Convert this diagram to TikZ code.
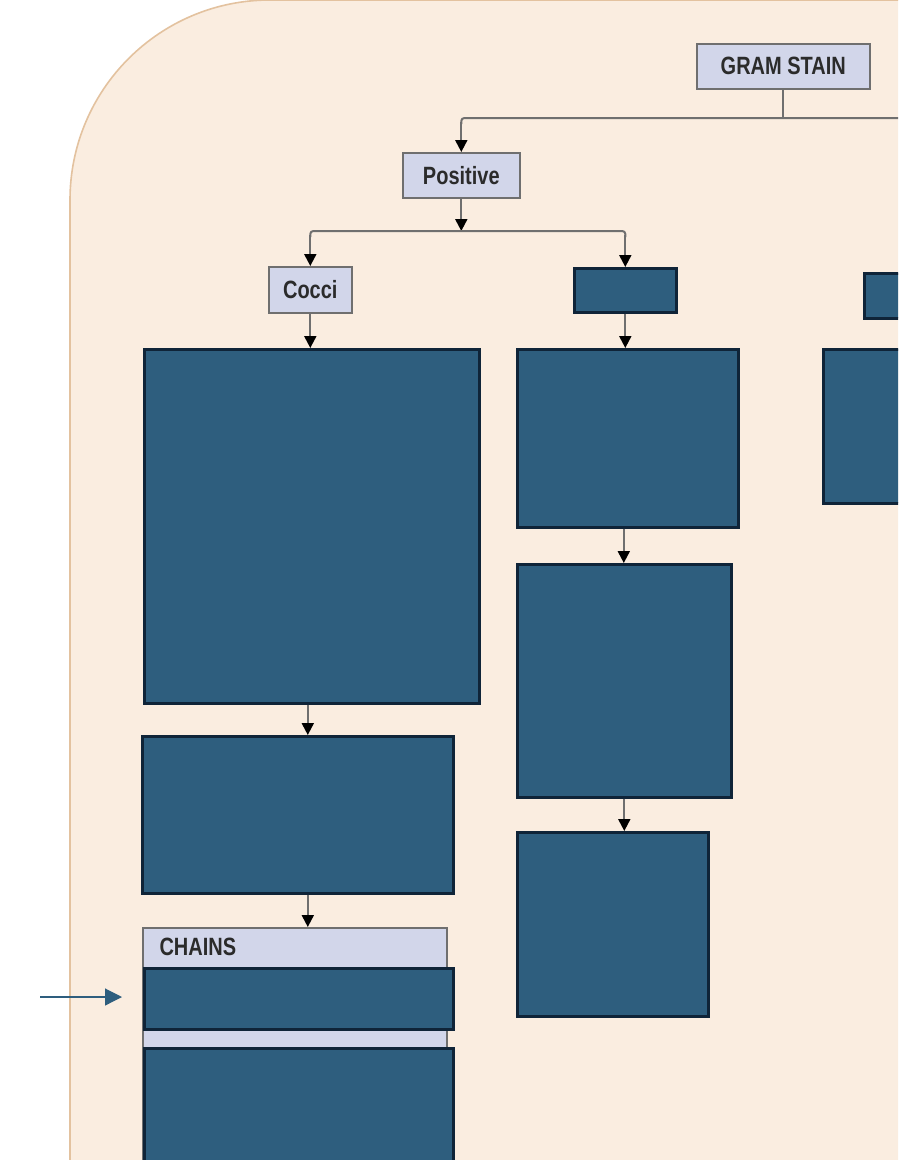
\documentclass[tikz,border=0pt]{standalone}
\usepackage{xcolor}
\usepackage{fontspec}
\setmainfont[FakeStretch=0.8]{Liberation Sans}
\usepackage{tikz}
\usetikzlibrary{calc, positioning, arrows.meta}
\definecolor{paperbg}{HTML}{FAEDE0}
\definecolor{paperedge}{HTML}{E3C29F}
\definecolor{lavbox}{HTML}{D2D6EA}
\definecolor{greyedge}{HTML}{6F6F6F}
\definecolor{tealbox}{HTML}{2E5E7E}
\definecolor{navyedge}{HTML}{0F2438}
\definecolor{inkgrey}{HTML}{2B2B2B}

\begin{document}
\begin{tikzpicture}[x=1pt, y=-1pt,
	labelbox/.style={draw=greyedge, fill=lavbox, line width=1.6pt, anchor=north west, inner sep=0pt, text=inkgrey, font=\fontsize{25}{28}\selectfont\bfseries},
	hiddenbox/.style={draw=navyedge, fill=tealbox, line width=2.6pt, anchor=north west, inner sep=0pt},
	flow/.style={draw=greyedge, line width=2pt, -{Triangle[length=12pt, width=12pt, color=black]}},
	bus/.style={draw=greyedge, line width=2pt, rounded corners=3pt}]
						\useasboundingbox (0,0) rectangle (898,1160);
						\clip (0,0) rectangle (898,1160);
						% page background
						\draw[fill=paperbg, draw=paperedge, line width=1.6pt, rounded corners=200pt] (70,0) rectangle (1100,1400);
						
						% top levels
						\node[labelbox, minimum width=173, minimum height=45] (gram) at (696,43) {GRAM STAIN};
						\node[labelbox, minimum width=117, minimum height=45] (pos) at (402,152) {Positive};
						\coordinate (offright) at (898,118);
						\draw[bus] (gram.south) -- (gram.south |- offright);
						\draw[bus] (offright) -- (pos.north |- offright) -- ++(0,6);
						\draw[flow] ($(pos.north |- offright)+(0,4)$) -- (pos.north);
						
						\node[labelbox, minimum width=83, minimum height=46] (cocci) at (268,266) {Cocci};
						\node[hiddenbox, minimum width=102, minimum height=44] (midtop) at (573,267) {};
						\node[hiddenbox, minimum width=60, minimum height=45] (righttop) at (863,272) {};
						\coordinate (split) at (0,231);
						\draw[flow] (pos.south) -- (pos.south |- split);
						\draw[bus] ($(cocci.north |- split)+(0,6)$) -- (cocci.north |- split) -- (midtop.north |- split) -- ++(0,6);
						\draw[flow] ($(cocci.north |- split)+(0,4)$) -- (cocci.north);
						\draw[flow] ($(midtop.north |- split)+(0,4)$) -- (midtop.north);
						
						% left column
						\node[hiddenbox, minimum width=335, minimum height=354] (cocbig) at (143,348) {};
						\node[hiddenbox, minimum width=311, minimum height=157] (cocmid) at (141,735) {};
						\node[labelbox, minimum width=304, minimum height=300] (chains) at (142,927) {};
						\node[anchor=west, text=inkgrey, font=\fontsize{25}{28}\selectfont\bfseries] (chainstxt) at (156,947) {CHAINS};
						\node[hiddenbox, minimum width=309, minimum height=61] (chainone) at (143,967) {};
						\node[hiddenbox, minimum width=309, minimum height=200] (chaintwo) at (143,1047) {};
						\draw[flow] (cocci.south) -- (cocci.south |- cocbig.north);
						\draw[flow] ($(cocbig.south)+(-4,0)$) -- ($(cocbig.south |- cocmid.north)+(-4,0)$);
						\draw[flow] ($(cocmid.south)+(10,0)$) -- ($(cocmid.south |- chains.north)+(10,0)$);
						
						% middle column
						\node[hiddenbox, minimum width=221, minimum height=178] (midone) at (516,348) {};
						\node[hiddenbox, minimum width=214, minimum height=233] (midtwo) at (516,563) {};
						\node[hiddenbox, minimum width=191, minimum height=184] (midthree) at (516,831) {};
						\draw[flow] (midtop.south) -- (midtop.south |- midone.north);
						\draw[flow] ($(midone.south)+(-4,0)$) -- ($(midone.south |- midtwo.north)+(-4,0)$);
						\draw[flow] (midtwo.south) -- (midtwo.south |- midthree.north);
						
						% right column
						\node[hiddenbox, minimum width=100, minimum height=154] (rightone) at (822,348) {};
						
						% pointer
						\coordinate (pointtail) at (40,997);
						\coordinate (pointtip) at (122,997);
						\draw[draw=tealbox, line width=1.2pt, -{Triangle[length=17pt, width=17pt]}] (pointtail) -- (pointtip);
						\end{tikzpicture}
\end{document}
